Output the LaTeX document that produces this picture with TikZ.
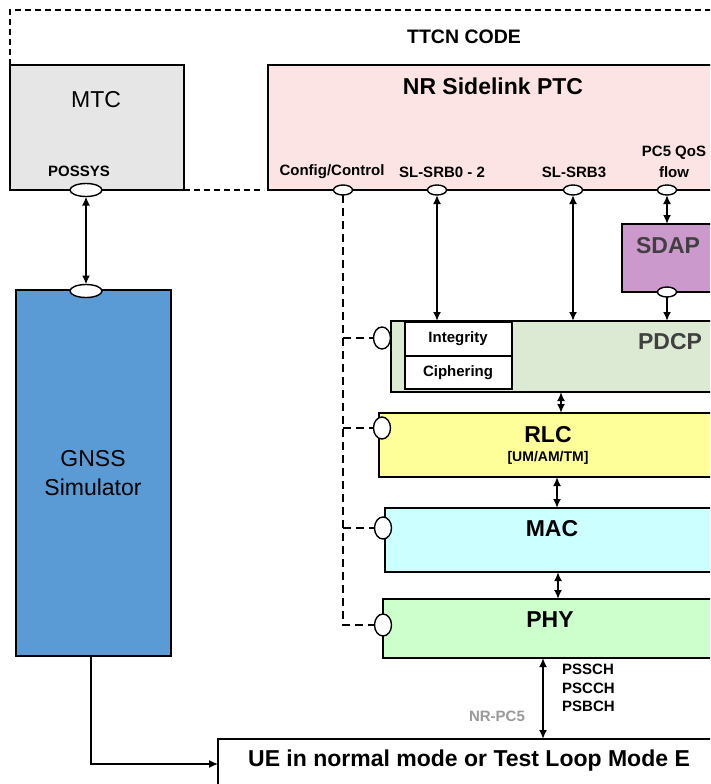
\documentclass[tikz,border=0pt]{standalone}
\usepackage{fontspec}
\setmainfont{Liberation Sans}
\usetikzlibrary{arrows.meta,shapes.geometric}
\definecolor{mtcgray}{HTML}{E6E6E6}
\definecolor{ptcpink}{HTML}{FDE4E4}
\definecolor{sdappurple}{HTML}{CC99CC}
\definecolor{pdcpgreen}{HTML}{DCEAD4}
\definecolor{rlcyellow}{HTML}{FFFF99}
\definecolor{maccyan}{HTML}{CCFFFF}
\definecolor{phygreen}{HTML}{CCFFCC}
\definecolor{gnssblue}{HTML}{5B9BD5}
\definecolor{darktxt}{HTML}{404040}
\definecolor{graytxt}{HTML}{999999}
\begin{document}
\begin{tikzpicture}[x=1pt,y=-1pt,
  box/.style={draw, line width=1.6pt, inner sep=0pt, outer sep=0pt, anchor=north west},
  port/.style={ellipse, draw, fill=white, line width=1.4pt, inner sep=0pt, outer sep=0pt, minimum width=19pt, minimum height=10pt},
  vport/.style={port, minimum width=17pt, minimum height=22pt},
  bigport/.style={port, minimum width=32pt, minimum height=13pt},
  ctl/.style={line width=2pt, dash pattern=on 8pt off 5pt},
  outer/.style={line width=1.4pt, dash pattern=on 6pt off 4pt},
  arr/.style={line width=2.3pt, {Latex[length=9pt,width=8pt]}-{Latex[length=9pt,width=8pt]}},
  sarr/.style={line width=2.3pt, -{Latex[length=9pt,width=8pt]}},
  lbl/.style={font=\bfseries\fontsize{15}{17}\selectfont, inner sep=0pt},
  big/.style={font=\bfseries\fontsize{23}{26}\selectfont, inner sep=0pt},
  reg/.style={font=\fontsize{23}{26}\selectfont, inner sep=0pt}]
\useasboundingbox (0,0) rectangle (710,784);
\clip (0,0) rectangle (710,784);
\fill[white] (0,0) rectangle (710,784);

% boxes
\node[box, fill=mtcgray, minimum width=174pt, minimum height=125pt] (mtc) at (10,65) {};
\node[box, fill=ptcpink, minimum width=470pt, minimum height=125pt] (ptc) at (268,65) {};
\node[box, fill=sdappurple, minimum width=110pt, minimum height=68pt] (sdap) at (622,224) {};
\node[box, fill=pdcpgreen, minimum width=340pt, minimum height=71pt] (pdcp) at (391,321) {};
\node[box, fill=white, minimum width=107pt, minimum height=34pt] (integ) at (405,322) {};
\node[box, fill=white, minimum width=107pt, minimum height=33pt] (ciph) at (405,356) {};
\node[box, fill=rlcyellow, minimum width=352pt, minimum height=64pt] (rlc) at (379,413) {};
\node[box, fill=maccyan, minimum width=346pt, minimum height=64pt] (mac) at (385,508) {};
\node[box, fill=phygreen, minimum width=348pt, minimum height=59pt] (phy) at (383,599) {};
\node[box, fill=gnssblue, minimum width=155pt, minimum height=366pt] (gnss) at (16,290) {};
\node[box, fill=white, minimum width=520pt, minimum height=50pt] (ue) at (218,739) {};

% texts
\node[font=\bfseries\fontsize{19.5}{22}\selectfont, inner sep=0pt] (ttcn) at (464,37) {TTCN CODE};
\node[reg] (mtct) at (96,100) {MTC};
\node[lbl] (possyst) at (79,171) {POSSYS};
\node[big] (ptct) at (493,86) {NR Sidelink PTC};
\node[lbl] (cfgt) at (332,172) {Config/Control};
\node[lbl] (srb02t) at (442,172) {SL-SRB0 - 2};
\node[lbl] (srb3t) at (574,172) {SL-SRB3};
\node[lbl] (pc5t) at (674,153) {PC5 QoS};
\node[lbl] (flowt) at (674,172) {flow};
\node[big, text=darktxt] (sdapt) at (668,246) {SDAP};
\node[lbl] (integt) at (458,339) {Integrity};
\node[lbl] (ciphtt) at (458,373) {Ciphering};
\node[big, text=darktxt] (pdcpt) at (670,342) {PDCP};
\node[big] (rlct) at (548,435) {RLC};
\node[font=\bfseries\fontsize{14}{16}\selectfont, inner sep=0pt] (rlcm) at (548,458) {[UM/AM/TM]};
\node[big] (mact) at (552,529) {MAC};
\node[big] (phyt) at (550,620) {PHY};
\node[lbl, anchor=west] (pssch) at (562,669) {PSSCH};
\node[lbl, anchor=west] (pscch) at (562,688) {PSCCH};
\node[lbl, anchor=west] (psbch) at (562,706) {PSBCH};
\node[lbl, text=graytxt] (nrpc5) at (497,716) {NR-PC5};
\node[big] (uet) at (469,761) {UE in normal mode or Test Loop Mode E};
\node[reg] (gnsst1) at (93,459) {GNSS};
\node[reg] (gnsst2) at (93,487) {Simulator};

% ports
\node[bigport] (possys) at (86,190) {};
\node[bigport] (gnssp) at (86,291) {};
\node[port] (cfg) at (343,190) {};
\node[port] (srb02) at (437,190) {};
\node[port] (srb3) at (573,190) {};
\node[port] (pc5) at (667,190) {};
\node[port] (sdapp) at (667,292) {};
\node[vport] (pdcpp) at (382,338) {};
\node[vport] (rlcp) at (382,428) {};
\node[vport] (macp) at (383,528) {};
\node[vport] (phyp) at (383,625) {};

% outer TTCN frame
\coordinate (ttcnend) at (720,10);
\draw[outer] (mtc.north west) |- (ttcnend);
\draw[outer] (mtc.south east) -- ([xshift=-4pt]ptc.south west);

% control dashed
\draw[ctl] (cfg.south) -- (cfg.south |- phyp.west) -- (phyp.west);
\draw[ctl] (cfg.south |- pdcpp.west) -- (pdcpp.west);
\draw[ctl] (cfg.south |- rlcp.west) -- (rlcp.west);
\draw[ctl] (cfg.south |- macp.west) -- (macp.west);

% arrows
\draw[arr] (possys.south) -- (gnssp.north);
\draw[arr] (srb02.south) -- (srb02.south |- pdcp.north);
\draw[arr] (srb3.south) -- (srb3.south |- pdcp.north);
\draw[arr] (pc5.south) -- (pc5.south |- sdap.north);
\draw[sarr] (sdapp.south) -- (sdapp.south |- pdcp.north);
\coordinate (a1) at ([xshift=170pt]pdcp.south west);
\draw[arr] (a1) -- (a1 |- rlc.north);
\coordinate (a2) at ([xshift=178pt]rlc.south west);
\draw[arr] (a2) -- (a2 |- mac.north);
\coordinate (a3) at ([xshift=173pt]mac.south west);
\draw[arr] (a3) -- (a3 |- phy.north);
\coordinate (a4) at ([xshift=160pt]phy.south west);
\draw[arr] (a4) -- (a4 |- ue.north);
\coordinate (g1) at ([xshift=-2.5pt]gnss.south);
\draw[line width=1.4pt, -{Latex[length=9pt,width=8pt]}] (g1) |- (ue.west);
\end{tikzpicture}
\end{document}
